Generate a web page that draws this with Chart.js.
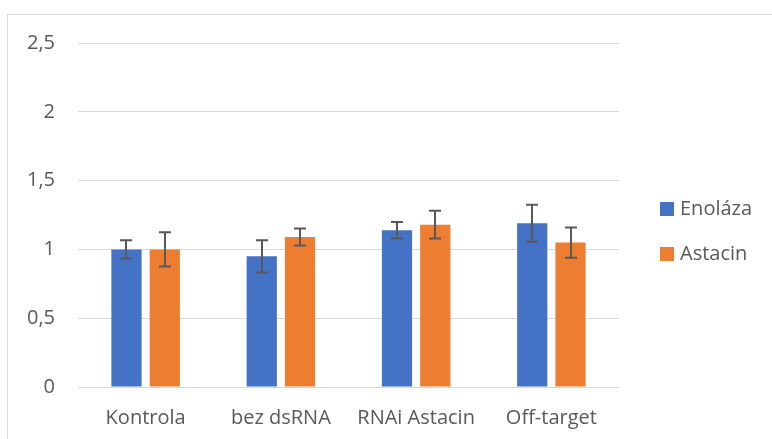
<!DOCTYPE html>
<html>
<head>
<meta charset="utf-8">
<script src="https://cdn.jsdelivr.net/npm/chart.js@4/dist/chart.umd.min.js"></script>
<style>
  html, body { margin: 0; padding: 0; background: #fff; overflow: hidden; }
  #wrap { width: 772px; height: 439px; }
</style>
</head>
<body>
<div id="wrap"><canvas id="chart" width="772" height="439"></canvas></div>
<script>
const categories = ["Kontrola", "bez dsRNA", "RNAi Astacin", "Off-target"];
const enolaza = [1.0, 0.95, 1.14, 1.19];
const astacin = [1.0, 1.09, 1.18, 1.05];
const enolazaErr = [0.066, 0.117, 0.059, 0.135];
const astacinErr = [0.124, 0.062, 0.1, 0.11];
const yTicks = [0, 0.5, 1, 1.5, 2, 2.5];

const textColor = "#595959";
const fontFamily = "'Open Sans', sans-serif";

// frame of the chart object, only top and left edges are visible
const framePlugin = {
  id: "frame",
  beforeDraw: (chart) => {
    const ctx = chart.ctx;
    ctx.save();
    ctx.strokeStyle = "#d9d9d9";
    ctx.lineWidth = 1;
    ctx.strokeRect(7.5, 14.5, 900, 600);
    ctx.restore();
  },
};

const errorBarPlugin = {
  id: "errorBars",
  afterDatasetsDraw: (chart) => {
    const ctx = chart.ctx;
    const yScale = chart.scales.y;
    ctx.save();
    ctx.strokeStyle = "#595959";
    ctx.lineWidth = 2;
    chart.data.datasets.forEach((ds, i) => {
      const meta = chart.getDatasetMeta(i);
      meta.data.forEach((bar, j) => {
        const v = ds.data[j];
        const e = ds.errors[j];
        const top = yScale.getPixelForValue(v + e);
        const bot = yScale.getPixelForValue(v - e);
        const x = Math.round(bar.x);
        ctx.beginPath();
        ctx.moveTo(x, top);
        ctx.lineTo(x, bot);
        ctx.moveTo(x - 6, top);
        ctx.lineTo(x + 6, top);
        ctx.moveTo(x - 6, bot);
        ctx.lineTo(x + 6, bot);
        ctx.stroke();
      });
    });
    ctx.restore();
  },
};

// legend drawn by hand to the right of the plot
const sideLegendPlugin = {
  id: "sideLegend",
  afterDraw: (chart) => {
    const ctx = chart.ctx;
    ctx.save();
    ctx.font = "20px " + fontFamily;
    ctx.textBaseline = "middle";
    chart.data.datasets.forEach((ds, i) => {
      const y = 202 + i * 45;
      ctx.fillStyle = ds.backgroundColor;
      ctx.fillRect(660, y, 14, 14);
      ctx.fillStyle = textColor;
      ctx.fillText(ds.label, 680, y + 7);
    });
    ctx.restore();
  },
};

new Chart(document.getElementById("chart").getContext("2d"), {
  type: "bar",
  data: {
    labels: categories,
    datasets: [
      {
        label: "Enoláza",
        data: enolaza,
        errors: enolazaErr,
        backgroundColor: "#4472c4",
        borderWidth: 0,
      },
      {
        label: "Astacin",
        data: astacin,
        errors: astacinErr,
        backgroundColor: "#ed7d31",
        borderWidth: 0,
      },
    ],
  },
  options: {
    responsive: false,
    animation: false,
    categoryPercentage: 0.566,
    barPercentage: 0.79,
    layout: {
      padding: { left: 0, right: 153, top: 43, bottom: 0 },
    },
    plugins: {
      legend: { display: false },
      tooltip: { enabled: false },
    },
    scales: {
      x: {
        grid: { display: false },
        border: { display: false },
        ticks: {
          color: textColor,
          font: { family: fontFamily, size: 20 },
          padding: 11,
          maxRotation: 0,
        },
        afterFit: (axis) => {
          axis.height = 52;
        },
      },
      y: {
        min: 0,
        max: 2.5,
        afterBuildTicks: (axis) => {
          axis.ticks = yTicks.map((v) => ({ value: v }));
        },
        grid: { color: "#d9d9d9", lineWidth: 1, drawTicks: false },
        border: { display: false },
        ticks: {
          color: textColor,
          font: { family: fontFamily, size: 20 },
          padding: 23,
          callback: (v) => String(v).replace(".", ","),
        },
        afterFit: (axis) => {
          axis.width = 78;
        },
      },
    },
  },
  plugins: [framePlugin, errorBarPlugin, sideLegendPlugin],
});
</script>
</body>
</html>
